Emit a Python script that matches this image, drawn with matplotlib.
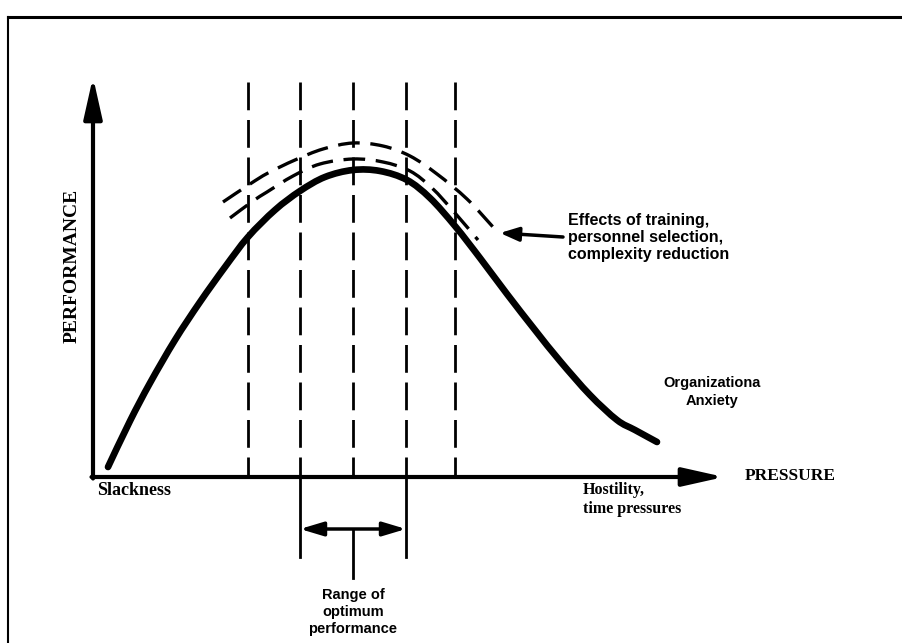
import matplotlib
matplotlib.use("Agg")
import matplotlib.pyplot as plt
from matplotlib.path import Path
from matplotlib.patches import PathPatch

# main performance curve (drawing coords, y grows downward)
pressure = [108, 130, 150, 175, 200, 225, 248, 275, 300, 325, 353, 380, 407, 430, 455, 480,
            507, 535, 560, 590, 617, 635, 657]
performance = [467, 421, 383, 340, 302, 267, 237, 210, 191, 177, 170, 171, 180, 198, 226, 258,
               294, 330, 361, 395, 420, 430, 442]

# dashed curves: effects of training etc.
upper_x = [223, 250, 268, 295, 323, 353, 383, 410, 437, 467, 493]
upper_y = [202, 184, 173, 160, 149, 143, 146, 156, 174, 199, 227]
lower_x = [230, 253, 267, 293, 320, 353, 383, 410, 432, 455, 478]
lower_y = [218, 201, 192, 176, 164, 159, 162, 171, 188, 213, 240]

# vertical dashed guides
guide_x = [248, 300, 353, 406, 455]
optimum_lo, optimum_mid, optimum_hi = 300, 353, 406

origin = (93, 477)
x_tip = 724
y_tip = 77


def smooth_path(xs, ys):
    # bezier segments through the given points (catmull-rom handles)
    pts = list(zip(xs, ys))
    verts = [pts[0]]
    codes = [Path.MOVETO]
    for i in range(len(pts) - 1):
        p0 = pts[i - 1] if i > 0 else pts[i]
        p1, p2 = pts[i], pts[i + 1]
        p3 = pts[i + 2] if i + 2 < len(pts) else pts[i + 1]
        c1 = (p1[0] + (p2[0] - p0[0]) / 6, p1[1] + (p2[1] - p0[1]) / 6)
        c2 = (p2[0] - (p3[0] - p1[0]) / 6, p2[1] - (p3[1] - p1[1]) / 6)
        verts += [c1, c2, p2]
        codes += [Path.CURVE4] * 3
    return Path(verts, codes)


fig = plt.figure(figsize=(9.02, 6.43), dpi=100)
ax = fig.add_axes([0, 0, 1, 1])
ax.set_xlim(0, 902)
ax.set_ylim(643, 0)
ax.axis("off")

# frame (top and left edges only)
ax.plot([8, 902], [17, 17], color="black", lw=2.2)
ax.plot([8, 8], [17, 643], color="black", lw=1.5)

# axes arrows
arrow = dict(arrowstyle="-|>,head_length=1.25,head_width=0.28", lw=3, color="black",
             mutation_scale=20, shrinkA=0, shrinkB=0)
ax.annotate("", xy=(origin[0], y_tip), xytext=(origin[0], origin[1] + 1.5), arrowprops=arrow)
ax.annotate("", xy=(x_tip, origin[1]), xytext=(origin[0] - 1.5, origin[1]), arrowprops=arrow)

# vertical dashed lines
for gx in guide_x:
    ax.plot([gx, gx], [82, origin[1]], color="black", lw=2, linestyle=(0, (10, 3.5)))

# dashed curves
for xs, ys in [(upper_x, upper_y), (lower_x, lower_y)]:
    ax.add_patch(PathPatch(smooth_path(xs, ys), fill=False, edgecolor="black", lw=2.4,
                           linestyle=(0, (6.5, 3.2))))

# main curve
ax.add_patch(PathPatch(smooth_path(pressure, performance), fill=False, edgecolor="black",
                       lw=4.8, capstyle="round", joinstyle="round"))

# range of optimum performance
ax.plot([optimum_lo, optimum_lo], [origin[1], 557], color="black", lw=2)
ax.plot([optimum_hi, optimum_hi], [origin[1], 557], color="black", lw=2)
ax.plot([optimum_mid, optimum_mid], [529, 578], color="black", lw=2)
ax.annotate("", xy=(optimum_hi, 529), xytext=(optimum_lo, 529),
            arrowprops=dict(arrowstyle="<|-|>,head_length=1.0,head_width=0.3", lw=2.5,
                            color="black", mutation_scale=14, shrinkA=0, shrinkB=0))

# effects arrow
ax.annotate("", xy=(500, 233), xytext=(563, 237),
            arrowprops=dict(arrowstyle="-|>,head_length=0.8,head_width=0.3", lw=2.5,
                            color="black", mutation_scale=14, shrinkA=0, shrinkB=0))

serif = dict(family="Liberation Serif", fontweight="bold", color="black")
sans = dict(family="Liberation Sans", fontweight="bold", color="black")
ax.text(72, 266, "PERFORMANCE", rotation=90, ha="center", va="center", fontsize=14, **serif)
ax.text(745, 476, "PRESSURE", ha="left", va="center", fontsize=12.5, **serif)
ax.text(97, 482, "Slackness", ha="left", va="top", fontsize=13, **serif)
ax.text(583, 482, "Hostility,\ntime pressures", ha="left", va="top", fontsize=11.5,
        linespacing=1.25, **serif)
ax.text(568, 213, "Effects of training,\npersonnel selection,\ncomplexity reduction",
        ha="left", va="top", fontsize=11.5, linespacing=1.15, **sans)
ax.text(712, 392, "Organizationa\nAnxiety", ha="center", va="center", fontsize=10.5,
        linespacing=1.35, **sans)
ax.text(353, 612, "Range of\noptimum\nperformance", ha="center", va="center", fontsize=10.5,
        linespacing=1.3, **sans)

fig.savefig("out.png", dpi=100)
